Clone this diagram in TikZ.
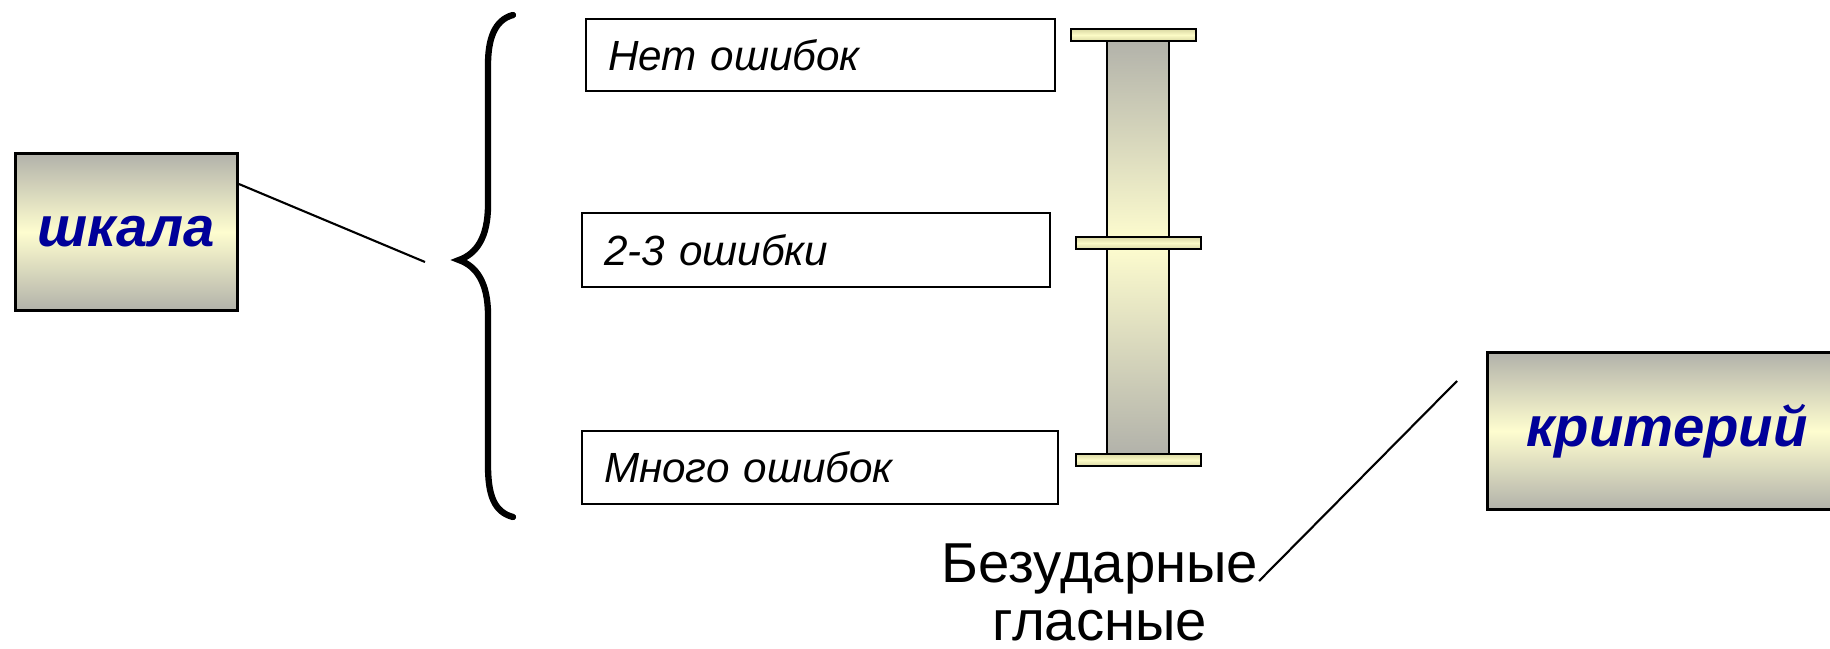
\documentclass[tikz,border=0pt]{standalone}
\usepackage{fontspec}
\setmainfont{Liberation Sans}
\definecolor{boxgray}{HTML}{B2B2AA}
\definecolor{boxyellow}{HTML}{FEFDCF}
\definecolor{capyellow}{HTML}{FCFBC6}
\definecolor{capedge}{HTML}{DAD8A4}
\definecolor{titleblue}{HTML}{000099}
\tikzset{
  gradbox/.style={draw,thick,top color=boxgray,bottom color=boxgray,middle color=boxyellow,
    font=\fontsize{16}{19}\selectfont\bfseries\itshape,text=titleblue},
  errbox/.style={draw,semithick,fill=white,anchor=north west,align=left,inner xsep=0.22cm,
    font=\fontsize{12}{14}\selectfont\itshape},
  capbar/.style={draw,semithick,top color=capedge,bottom color=capedge,middle color=capyellow},
  link/.style={semithick}
}
\begin{document}
\begin{tikzpicture}[x=0.01cm,y=-0.01cm]
    \useasboundingbox(0,0)rectangle(1830,648);

    \coordinate(tip)at(425,262);
    \coordinate(kr)at(1457,381);

    \node[gradbox,anchor=north west,minimum width=2.22cm,minimum height=1.57cm](shkala)at(14,152){шкала};
    \node[gradbox,anchor=north west,minimum height=1.57cm,inner xsep=0.39cm,text width=2.66cm,align=left](kriterij)at(1486,351){критерий};

    \node[errbox,minimum height=0.72cm,text width=4.25cm](net)at(585,18){Нет ошибок};
    \node[errbox,minimum height=0.74cm,text width=4.24cm](dve)at(581,212){2-3 ошибки};
    \node[errbox,minimum height=0.73cm,text width=4.32cm](mnogo)at(581,430){Много ошибок};

    % brace
    \draw[line width=1.8pt,line cap=round](513,15) .. controls (494,20) and (488,40) .. (488,65)
      -- (488,205) .. controls (488,238) and (476,254) .. (459,260)
      .. controls (476,266) and (488,282) .. (488,315)
      -- (488,465) .. controls (488,495) and (494,512) .. (513,517);

    % scale bar
    \shade[top color=boxgray,bottom color=boxyellow](1107,40)rectangle(1169,243);
    \shade[top color=boxyellow,bottom color=boxgray](1107,243)rectangle(1169,454);
    \draw[semithick](1107,40)rectangle(1169,454);
    \foreach\L/\Y in{1071/29,1076/237,1076/454}\draw[capbar](\L,\Y)rectangle++(125,12);

    \node[font=\fontsize{16}{16.5}\selectfont,align=center,anchor=north,inner sep=0pt](glasnye)at(1100,543){Безударные\\гласные};

    \draw[link]([yshift=-0.38cm]glasnye.north east)--(kr);
    \draw[link]([yshift=-0.32cm]shkala.north east)--(tip);
\end{tikzpicture}
\end{document}
